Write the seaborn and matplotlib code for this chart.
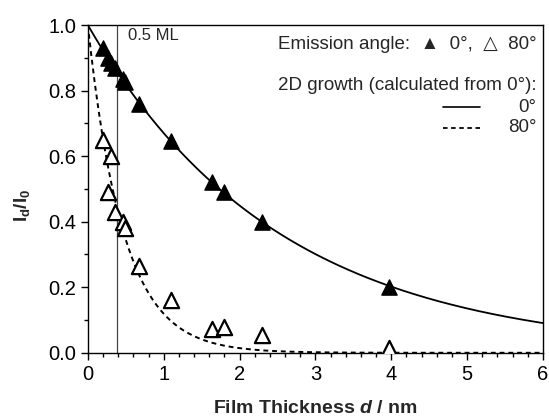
import numpy as np
import pandas as pd
import matplotlib.pyplot as plt
import seaborn as sns
from matplotlib.lines import Line2D
from matplotlib.ticker import MultipleLocator

# data
thickness = [0.20, 0.27, 0.31, 0.36, 0.47, 0.49, 0.68, 1.10, 1.64, 1.80, 2.30, 3.97]
ratio_0deg = [0.93, 0.90, 0.885, 0.87, 0.835, 0.825, 0.76, 0.645, 0.52, 0.49, 0.40, 0.20]
ratio_80deg = [0.65, 0.49, 0.60, 0.43, 0.40, 0.38, 0.265, 0.16, 0.073, 0.08, 0.055, 0.015]

# attenuation lengths of the calculated 2D growth curves (nm)
lambda_0deg = 2.5
lambda_80deg = 0.47
half_ml = 0.385

sns.set_theme(style="ticks")
plt.rcParams['font.family'] = ['Liberation Sans', 'DejaVu Sans']
plt.rcParams['mathtext.fontset'] = 'custom'
plt.rcParams['mathtext.it'] = 'Liberation Sans:italic:bold'
plt.rcParams['mathtext.bf'] = 'Liberation Sans:bold'
plt.rcParams['mathtext.rm'] = 'Liberation Sans:bold'

fig = plt.figure(figsize=(5.49, 4.18), dpi=100)
ax = fig.add_axes([0.160, 0.156, 0.829, 0.784])

d = np.linspace(0, 6, 400)
curves = pd.DataFrame({'d': d,
                       'c0': np.exp(-d / lambda_0deg),
                       'c80': np.exp(-d / lambda_80deg)})
sns.lineplot(data=curves, x='d', y='c0', color='black', lw=1.3, ax=ax)
sns.lineplot(data=curves, x='d', y='c80', color='black', lw=1.4, ax=ax,
             linestyle=(0, (2.5, 2)))

pts = pd.DataFrame({'d': thickness, 'i0': ratio_0deg, 'i80': ratio_80deg})
sns.scatterplot(data=pts, x='d', y='i0', marker='^', s=120, color='black',
                edgecolor='black', linewidth=1, ax=ax, zorder=5)
sns.scatterplot(data=pts, x='d', y='i80', marker='^', s=120, facecolor='white',
                edgecolor='black', linewidth=1.6, ax=ax, zorder=5)

ax.axvline(half_ml, color='#444444', lw=0.9)
ax.text(0.53, 0.968, '0.5 ML', fontsize=12, va='center')

ax.set_xlim(0, 6)
ax.set_ylim(0, 1.0)
ax.xaxis.set_major_locator(MultipleLocator(1))
ax.xaxis.set_minor_locator(MultipleLocator(0.2))
ax.yaxis.set_major_locator(MultipleLocator(0.2))
ax.yaxis.set_minor_locator(MultipleLocator(0.1))
ax.tick_params(axis='both', which='major', labelsize=14.5, length=5, width=1,
               color='black', labelcolor='black', direction='out')
ax.tick_params(axis='both', which='minor', length=3, width=1, color='black')
ax.yaxis.set_major_formatter(plt.FuncFormatter(lambda v, p: f'{v:.1f}'))
for s in ax.spines.values():
    s.set_color('black')
    s.set_linewidth(1)

ax.set_xlabel('Film Thickness $d$ / nm', fontsize=14, fontweight='bold')
ax.xaxis.set_label_coords(0.5, -0.145)
ax.set_ylabel(r'$\mathbf{I_d/I_0}$', fontsize=13.5)
ax.yaxis.set_label_coords(-0.122, 0.45)

# legend drawn as text
tx = 0.985
tr = ax.transAxes
fs = 13.5
ax.text(tx, 0.94, 'Emission angle:  \u25B2  0\u00b0,  \u25B3  80\u00b0', ha='right',
        va='center', fontsize=fs, transform=tr)
ax.text(tx, 0.815, '2D growth (calculated from 0\u00b0):', ha='right', va='center',
        fontsize=fs, transform=tr)
ax.text(tx, 0.75, '0\u00b0', ha='right', va='center', fontsize=fs, transform=tr)
ax.text(tx, 0.686, '80\u00b0', ha='right', va='center', fontsize=fs, transform=tr)
ax.add_line(Line2D([0.78, 0.862], [0.75, 0.75], transform=tr, color='black', lw=1.2))
ax.add_line(Line2D([0.78, 0.862], [0.686, 0.686], transform=tr, color='black', lw=1.3,
                   linestyle=(0, (2.5, 2))))

fig.savefig('out.png', dpi=100)
